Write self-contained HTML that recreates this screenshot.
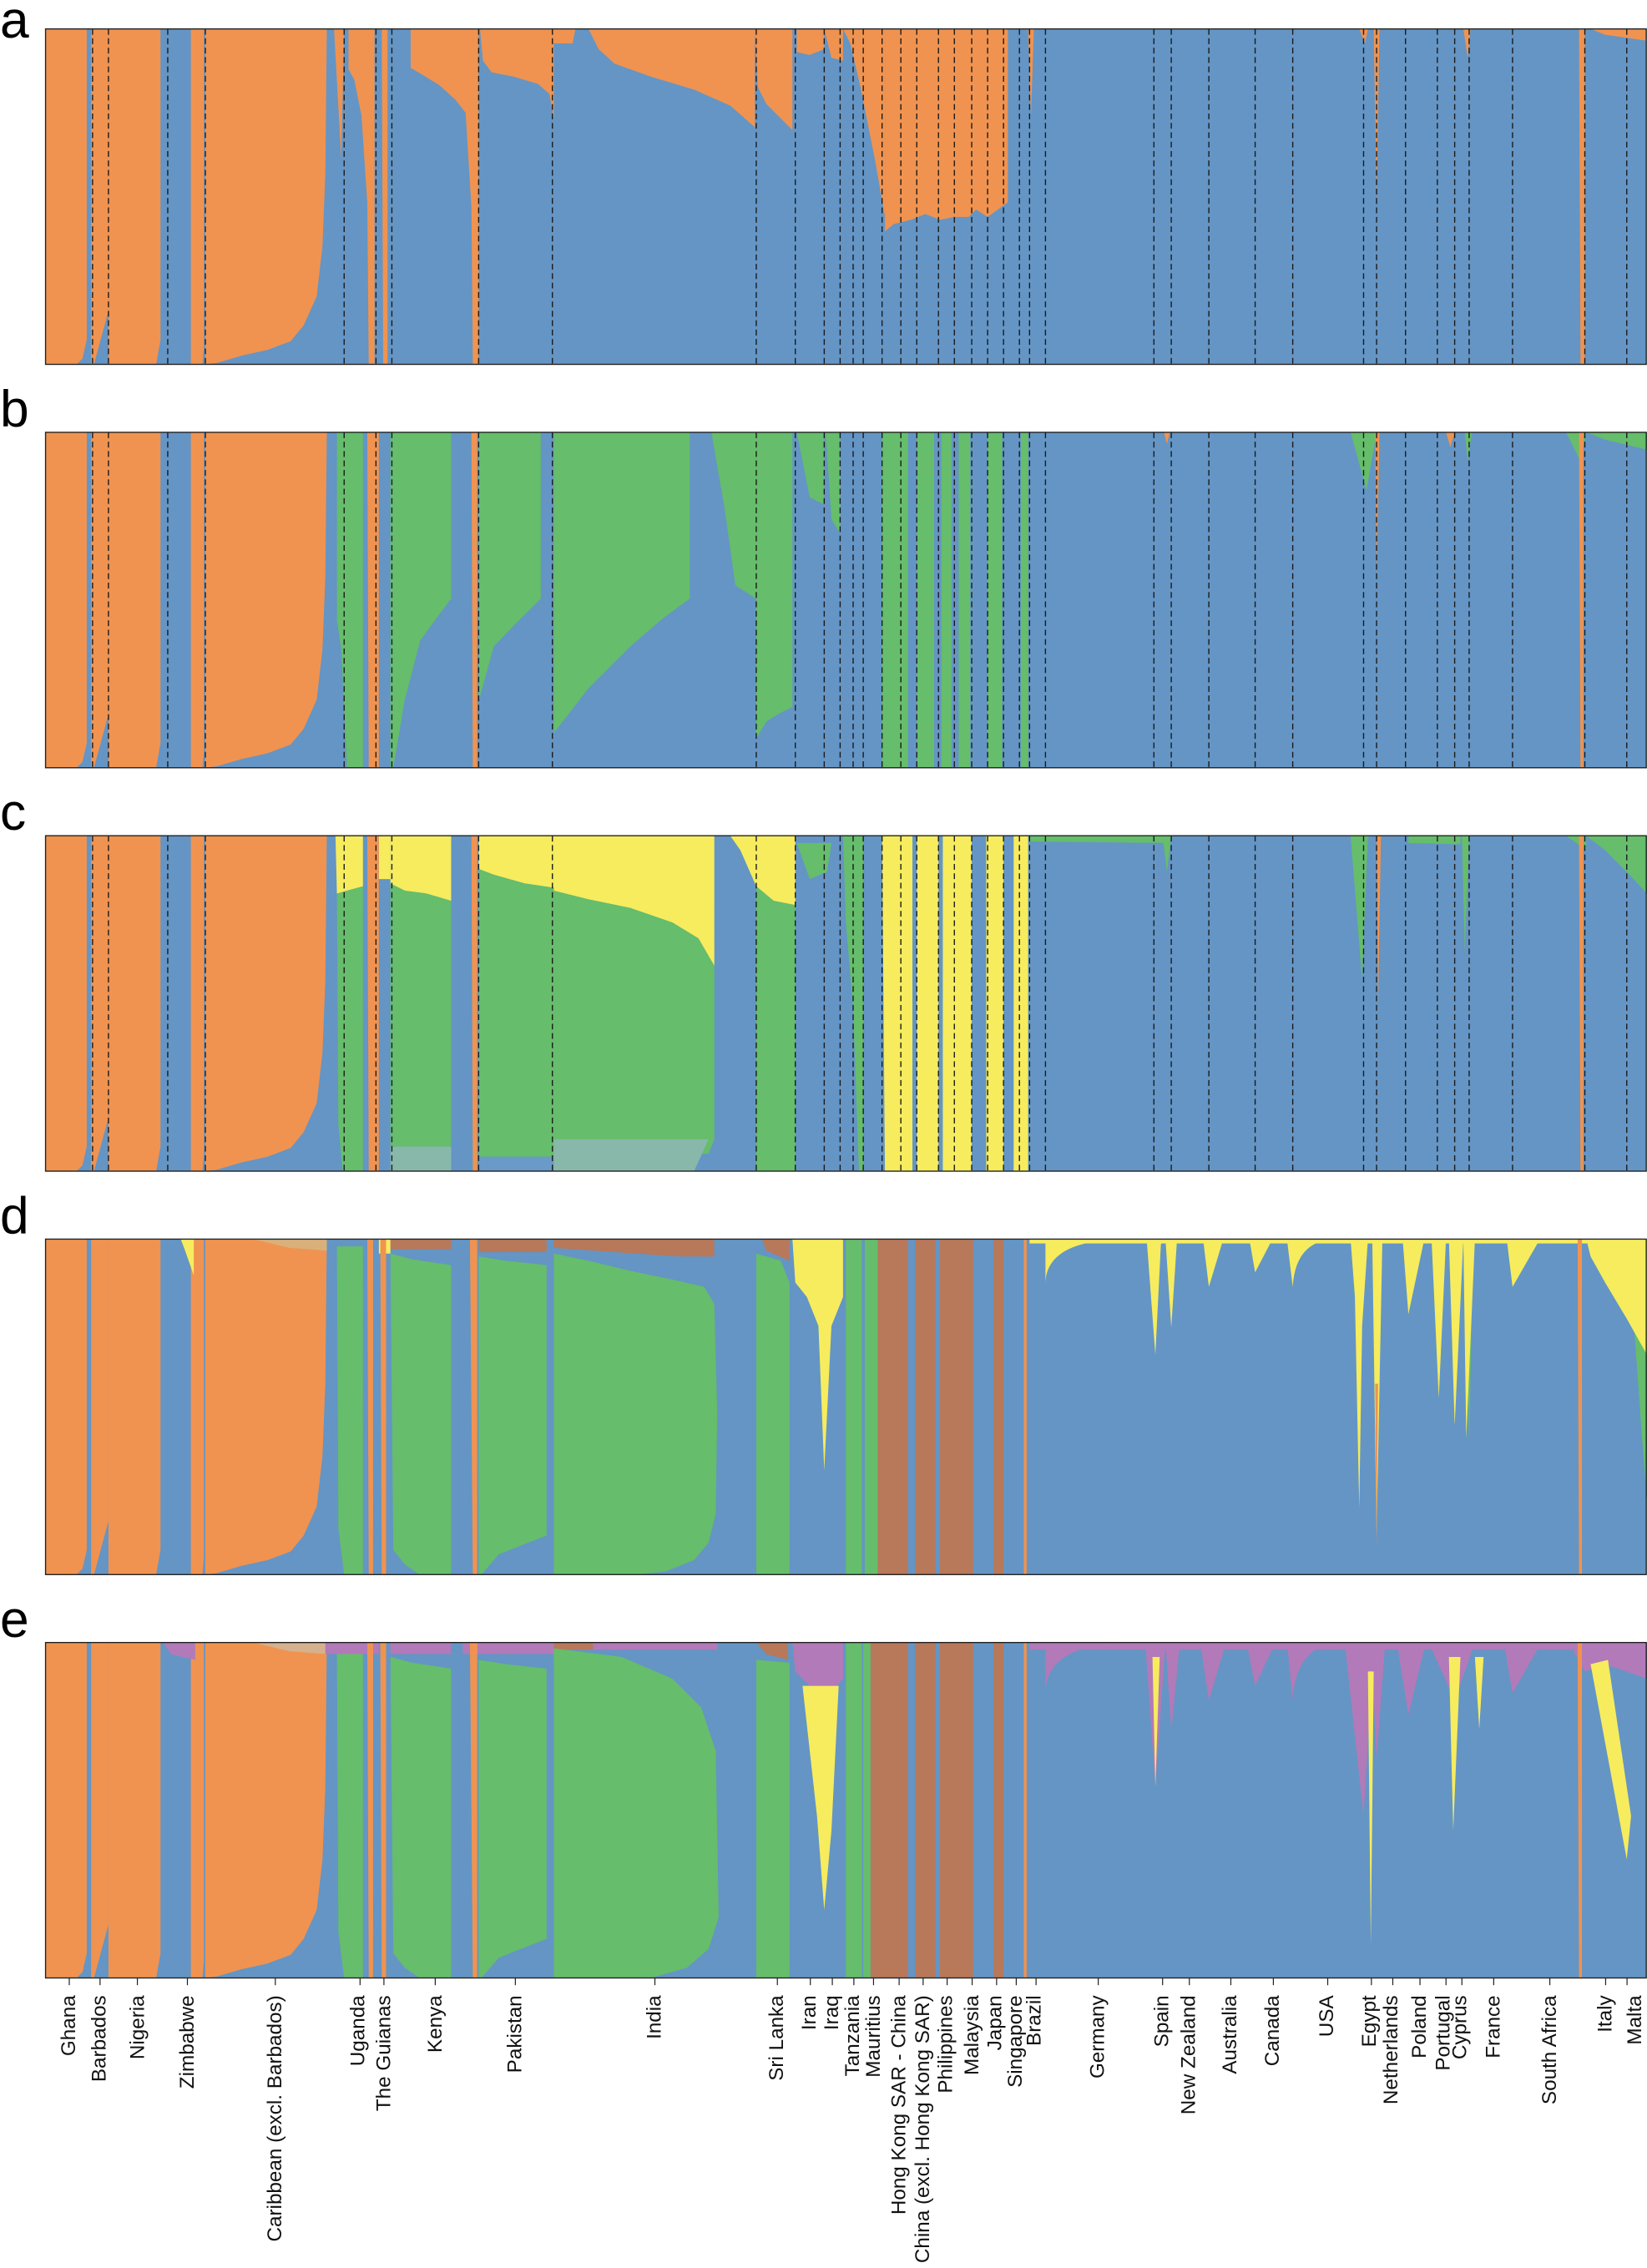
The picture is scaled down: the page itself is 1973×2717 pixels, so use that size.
<!DOCTYPE html>
<html><head><meta charset="utf-8"><style>html,body{margin:0;padding:0;background:#fff}svg{display:block}</style></head><body>
<svg xmlns="http://www.w3.org/2000/svg" width="1973" height="2717" viewBox="0 0 1139 1568.6" preserveAspectRatio="none" font-family="Liberation Sans, sans-serif">
<defs>
<g id="left">
<rect x="31.5" y="0" width="1107" height="232" fill="#6495c5"/>
<g fill="#f09350">
<path d="M31.5,0 H60 V215 L57,228 L53,232 H31.5 Z"/>
<path d="M63,0 H75 V195 L65,232 H63 Z"/>
<path d="M75,0 H111 V215 L108,232 H75 Z"/>
<path d="M132,0 H141 V220 L140,232 H132 Z"/>
<path d="M142,0 H226 L225,100 L223,150 L219,185 L210,205 L201,216 L185,222 L167,226 L150,231 L142,232 Z"/>
</g>
</g>
<g id="dash" stroke="#1a1a1a" stroke-width="0.8" stroke-dasharray="4,2.5">
<line x1="64" y1="0" x2="64" y2="232"/><line x1="75" y1="0" x2="75" y2="232"/><line x1="116" y1="0" x2="116" y2="232"/><line x1="142" y1="0" x2="142" y2="232"/><line x1="238" y1="0" x2="238" y2="232"/><line x1="260" y1="0" x2="260" y2="232"/><line x1="271" y1="0" x2="271" y2="232"/><line x1="331" y1="0" x2="331" y2="232"/><line x1="382" y1="0" x2="382" y2="232"/><line x1="523" y1="0" x2="523" y2="232"/><line x1="550" y1="0" x2="550" y2="232"/><line x1="570" y1="0" x2="570" y2="232"/><line x1="581" y1="0" x2="581" y2="232"/><line x1="590" y1="0" x2="590" y2="232"/><line x1="597" y1="0" x2="597" y2="232"/><line x1="610" y1="0" x2="610" y2="232"/><line x1="623" y1="0" x2="623" y2="232"/><line x1="634" y1="0" x2="634" y2="232"/><line x1="649" y1="0" x2="649" y2="232"/><line x1="660" y1="0" x2="660" y2="232"/><line x1="672" y1="0" x2="672" y2="232"/><line x1="683" y1="0" x2="683" y2="232"/><line x1="694" y1="0" x2="694" y2="232"/><line x1="705" y1="0" x2="705" y2="232"/><line x1="712" y1="0" x2="712" y2="232"/><line x1="723" y1="0" x2="723" y2="232"/><line x1="798" y1="0" x2="798" y2="232"/><line x1="810" y1="0" x2="810" y2="232"/><line x1="836" y1="0" x2="836" y2="232"/><line x1="868" y1="0" x2="868" y2="232"/><line x1="894" y1="0" x2="894" y2="232"/><line x1="943" y1="0" x2="943" y2="232"/><line x1="952" y1="0" x2="952" y2="232"/><line x1="972" y1="0" x2="972" y2="232"/><line x1="994" y1="0" x2="994" y2="232"/><line x1="1006" y1="0" x2="1006" y2="232"/><line x1="1016" y1="0" x2="1016" y2="232"/><line x1="1046" y1="0" x2="1046" y2="232"/><line x1="1096" y1="0" x2="1096" y2="232"/><line x1="1125" y1="0" x2="1125" y2="232"/>
</g>
</defs>

<g font-size="36" fill="#000">
<text x="0" y="26">a</text><text x="0" y="295">b</text><text x="0" y="574">c</text><text x="0" y="853">d</text><text x="0" y="1132">e</text>
</g>

<!-- Panel a -->
<g transform="translate(0,20)">
<use href="#left"/>
<g fill="#f09350">
<path d="M231,0 H238 L236,90 Z"/>
<path d="M241,0 H259 V232 H255 L254,120 L250,60 L245,35 L241,28 Z"/>
<path d="M264,0 H268 V232 H265 Z"/>
<path d="M284,0 H331 V232 H327 L326,123 L322,58 L315,49 L304,39 L291,31 L284,27 Z"/>
<path d="M332,0 H383 V62 L380,45 L372,38 L355,33 L340,30 L334,22 Z"/>
<path d="M383,0 H398 L396,10 L383,10 Z"/>
<path d="M407,0 H522 V68 L505,53 L480,42 L450,33 L425,24 L414,14 Z"/>
<path d="M522,0 H548 V70 L540,62 L530,52 L524,40 Z"/>
<path d="M551,0 H570 V14 L560,18 L551,16 Z"/>
<path d="M570,0 H583 V22 L575,20 Z"/>
<path d="M583,0 H612 V130 L605,90 L595,40 L588,10 Z"/>
<path d="M612,0 H697 V120 L690,125 L683,130 L675,125 L670,130 L660,130 L650,132 L640,128 L630,132 L618,135 L612,140 Z"/>
<path d="M711,0 H715 L713,60 Z"/>
<path d="M940,0 H946 L944,10 Z"/>
<path d="M950,0 H954 L952,120 Z"/>
<path d="M1012,0 H1017 L1015,20 Z"/>
<path d="M1092,0 H1096 V232 H1093 Z"/>
<path d="M1100,0 H1138 V8 L1110,4 Z"/>
</g>
<use href="#dash"/>
<rect x="31.5" y="0" width="1107" height="232" fill="none" stroke="#222" stroke-width="0.8"/>
</g>

<!-- Panel b -->
<g transform="translate(0,299)">
<use href="#left"/>
<g fill="#66bd6b">
<path d="M233,0 H251 V232 H240 L236,150 L233,130 Z"/>
<path d="M270,0 H312 V115 L301.5,129 L290.6,144 L279.7,186 L272,232 H270 Z"/>
<path d="M331,0 H374 V115 L356,133 L341.5,148 L331,186 Z"/>
<path d="M383,0 H477 V115 L458,129 L436,148 L407,177 L383,208 Z"/>
<path d="M492,0 H523 V115 L508.6,106 L501,52 Z"/>
<path d="M523,0 H548 V190 L538,195 L530,200 L524,210 L523,210 Z"/>
<path d="M551,0 H570 V50 L560,45 Z"/>
<path d="M571,0 H581 V70 L575,60 Z"/>
<path d="M610,0 H628 V232 H610 Z"/>
<path d="M634,0 H646 V232 H634 Z"/>
<path d="M651,0 H658 V232 H651 Z"/>
<path d="M663,0 H671 V232 H663 Z"/>
<path d="M683,0 H693 V232 H683 Z"/>
<path d="M706,0 H711 V232 H706 Z"/>
<path d="M934,0 H952 L945,40 Z"/>
<path d="M1013,0 H1018 L1015,20 Z"/>
<path d="M1083,0 H1097 L1093,20 Z"/>
<path d="M1097,0 H1139 V12 L1110,5 Z"/>
</g>
<g fill="#f09350">
<path d="M254,0 H262 V232 H255 Z"/>
<path d="M326,0 H330 V232 H327 Z"/>
<path d="M951,0 H954 L952,100 Z"/>
<path d="M1000,0 H1006 L1003,10 Z"/>
<path d="M1092,0 H1095 V232 H1093 Z"/>
<path d="M805,0 H809 L807,8 Z"/>
</g>
<use href="#dash"/>
<rect x="31.5" y="0" width="1107" height="232" fill="none" stroke="#222" stroke-width="0.8"/>
</g>

<!-- Panel c -->
<g transform="translate(0,578)">
<use href="#left"/>
<g fill="#f6ec5e">
<path d="M232,0 H251 V35 L240,38 L233,40 Z"/>
<path d="M262,0 H270 V30 L262,30 Z"/>
<path d="M270,0 H312 V45 L295,40 L280,38 L270,33 Z"/>
<path d="M331,0 H383 V36 L363,33 L341.5,27 L331,23 Z"/>
<path d="M383,0 H494 V90 L483,71 L465,60 L436,50 L407,44 L383,38 Z"/>
<path d="M505,0 H550 V48 L535,45 L523,35 L512,10 Z"/>
<path d="M610,0 H631 V232 H612 Z"/>
<path d="M634,0 H649 V232 H634 Z"/>
<path d="M652,0 H672 V232 H652 Z"/>
<path d="M682,0 H694 V232 H682 Z"/>
<path d="M701,0 H711 V232 H701 Z"/>
</g>
<g fill="#66bd6b">
<path d="M233,40 L240,38 L251,35 V232 H237 L234,200 Z"/>
<path d="M270,33 L280,38 L295,40 L312,45 V215 H270 Z"/>
<path d="M331,23 L341.5,27 L363,33 L383,36 V222 H331 Z"/>
<path d="M383,38 L407,44 L436,50 L465,60 L483,71 L494,90 V210 L490,220 H383 Z"/>
<path d="M523,35 L535,45 L550,48 V232 H523 Z"/>
<path d="M551,5 H575 L572,25 L560,30 Z"/>
<path d="M583,0 H597 V232 H594 L590,120 L585,60 Z"/>
<path d="M712,0 H806 V5 L712,4 Z"/>
<path d="M804,0 H810 L807,25 Z"/>
<path d="M934,0 H946 L942,100 Z"/>
<path d="M974,0 H1010 V6 L974,5 Z"/>
<path d="M1011,0 H1016 L1013,80 Z"/>
<path d="M1083,0 H1097 V10 Z"/>
<path d="M1097,0 H1139 V40 L1125,25 L1110,10 Z"/>
</g>
<g fill="#88b8aa">
<path d="M270,215 H312 V232 H270 Z"/>
<path d="M383,210 H490 L480,232 H383 Z"/>
</g>
<path d="M331,222 H383 V232 H331 Z" fill="#6a9ac8"/>
<g fill="#f09350">
<path d="M254,0 H262 V232 H255 Z"/>
<path d="M326,0 H330 V232 H327 Z"/>
<path d="M952,0 H955 L953,120 Z"/>
<path d="M1092,0 H1095 V232 H1093 Z"/>
</g>
<use href="#dash"/>
<rect x="31.5" y="0" width="1107" height="232" fill="none" stroke="#222" stroke-width="0.8"/>
</g>

<!-- Panel d -->
<g transform="translate(0,857)">
<use href="#left"/>
<path d="M175,0 H226 V8 L200,6 Z" fill="#d9b07a"/>
<g fill="#b8785a">
<path d="M270,0 H312 V7 H270 Z"/>
<path d="M331,0 H378 V9 H331 Z"/>
<path d="M383,0 H494 V12 L470,12 L440,10 L383,6 Z"/>
<path d="M527,0 H546 V15 L530,8 Z"/>
<path d="M607,0 H628 V232 H607 Z"/>
<path d="M633,0 H647 V232 H633 Z"/>
<path d="M650,0 H673 V232 H650 Z"/>
<path d="M687,0 H694 V232 H687 Z"/>
</g>
<g fill="#66bd6b">
<path d="M233,5 H251 V232 H238 L234,200 Z"/>
<path d="M270,10 L285,14 L312,18 V232 H290 L280,225 L272,215 Z"/>
<path d="M331,12 L350,15 L378,18 V205 L360,212 L345,218 L333,232 H331 Z"/>
<path d="M383,10 L407,15 L436,22 L465,28 L487,33 L494,45 L496,120 L495,190 L490,210 L480,222 L460,230 L440,232 H383 Z"/>
<path d="M523,10 L540,15 L546,30 V232 H523 Z"/>
<path d="M585,0 H596 V232 H585 Z"/>
<path d="M598,0 H607 V232 H598 Z"/>
<path d="M1130,60 L1139,75 V180 L1135,130 Z"/>
<path d="M1014,40 L1018,40 L1016,140 Z"/>
</g>
<g fill="#f6ec5e">
<path d="M262,0 H270 V10 H262 Z"/>
<path d="M125,0 H134 V25 L128,8 Z"/>
<path d="M548,0 H583 V40 L575,60 L570,160 L566,60 L558,40 L550,30 Z"/>
<path d="M712,0 H1139 V3 H712 Z"/>
<path d="M723,0 H781 Q723,0 723,31 Z"/>
<path d="M793,0 H803 L799,80 Z"/><path d="M801,0 H812 Q801,0 801,10 Z"/>
<path d="M806,0 H814 L810,61 Z"/>
<path d="M832,0 H846 L836,33 Z"/>
<path d="M864,0 H880 L868,23 Z"/>
<path d="M890,0 H925 Q896,0 894,33 Z"/>
<path d="M934,0 H946 L942,60 L940,186 L937,40 Z"/>
<path d="M949,0 H956 L952,205 Z"/>
<path d="M970,0 H985 L974,52 Z"/>
<path d="M990,0 H1000 L995,110 Z"/>
<path d="M1002,0 H1012 L1006,129 Z"/>
<path d="M1012,0 H1020 L1014,138 Z"/>
<path d="M1042,0 H1065 L1046,33 Z"/>
<path d="M1097,0 H1139 V80 L1125,55 L1110,30 L1100,12 Z"/>
</g>
<g fill="#f09350">
<path d="M254,0 H258 V232 H255 Z"/>
<path d="M263,0 H267 V232 H264 Z"/>
<path d="M325,0 H330 V232 H327 Z"/>
<path d="M708,0 H710 V232 H708 Z"/>
<path d="M951,100 L953,100 L952,215 Z"/>
<path d="M1091,0 H1094 V232 H1092 Z"/>
</g>
<rect x="31.5" y="0" width="1107" height="232" fill="none" stroke="#222" stroke-width="0.8"/>
</g>

<!-- Panel e -->
<g transform="translate(0,1136)">
<use href="#left"/>
<path d="M175,0 H226 V8 L200,6 Z" fill="#d6b18d"/>
<g fill="#b27ab8">
<path d="M113,0 H135 V12 L118,8 Z"/>
<path d="M225,0 H262 V8 H225 Z"/>
<path d="M270,0 H312 V8 H270 Z"/>
<path d="M320,0 H383 V8 H320 Z"/>
<path d="M410,0 H496 V5 H410 Z"/>
<path d="M548,0 H583 V25 L575,35 L560,30 L550,20 Z"/>
<path d="M712,0 H1139 V5 H712 Z"/>
<path d="M723,0 H785 Q723,0 723,35 Z"/>
<path d="M792,0 H806 L799,100 Z"/>
<path d="M806,0 H816 L810,61 Z"/>
<path d="M830,0 H848 L836,40 Z"/>
<path d="M862,0 H882 L868,30 Z"/>
<path d="M890,0 H930 Q896,0 894,40 Z"/>
<path d="M930,0 H950 L943,120 Z"/>
<path d="M948,0 H958 L952,80 Z"/>
<path d="M966,0 H986 L974,50 Z"/>
<path d="M988,0 H1020 L1006,40 Z"/>
<path d="M1040,0 H1066 L1046,35 Z"/>
<path d="M1085,0 H1139 V25 L1110,15 L1096,20 Z"/>
</g>
<g fill="#b8785a">
<path d="M383,0 H410 V5 H383 Z"/>
<path d="M523,0 H545 V12 L530,8 Z"/>
<path d="M602,0 H628 V232 H602 Z"/>
<path d="M633,0 H647 V232 H633 Z"/>
<path d="M650,0 H673 V232 H650 Z"/>
<path d="M687,0 H694 V232 H687 Z"/>
</g>
<g fill="#66bd6b">
<path d="M233,8 H251 V232 H238 L234,200 Z"/>
<path d="M270,10 L285,14 L312,18 V232 H290 L280,225 L272,215 Z"/>
<path d="M331,12 L350,15 L378,18 V205 L360,212 L345,218 L333,232 H331 Z"/>
<path d="M383,4 L430,10 L465,25 L485,45 L495,75 L497,190 L490,212 L475,225 L450,232 H383 Z"/>
<path d="M523,12 L546,14 V232 H523 Z"/>
<path d="M585,0 H596 V232 H585 Z"/>
<path d="M597,0 H602 V232 H597 Z"/>
</g>
<g fill="#f6ec5e">
<path d="M555,30 L580,30 L575,130 L570,185 L565,120 Z"/>
<path d="M797,10 H802 L799,100 Z"/>
<path d="M946,20 H950 L948,210 Z"/>
<path d="M1002,10 H1010 L1005,130 Z"/>
<path d="M1020,10 H1026 L1023,60 Z"/>
<path d="M1100,15 L1112,12 L1128,120 L1125,150 Z"/>
<path d="M326,0 H330 V8 H326 Z"/>
</g>
<g fill="#f09350">
<path d="M254,0 H258 V232 H255 Z"/>
<path d="M263,0 H267 V232 H264 Z"/>
<path d="M325,0 H330 V232 H327 Z"/>
<path d="M708,0 H710 V232 H708 Z"/>
<path d="M1091,0 H1094 V232 H1092 Z"/>
</g>
<rect x="31.5" y="0" width="1107" height="232" fill="none" stroke="#222" stroke-width="0.8"/>
</g>

<!-- ticks -->
<g stroke="#222" stroke-width="0.7">
<line x1="47.9" y1="1368" x2="47.9" y2="1373"/><line x1="69.2" y1="1368" x2="69.2" y2="1373"/><line x1="95" y1="1368" x2="95" y2="1373"/><line x1="129.6" y1="1368" x2="129.6" y2="1373"/><line x1="190.4" y1="1368" x2="190.4" y2="1373"/><line x1="249" y1="1368" x2="249" y2="1373"/><line x1="265.5" y1="1368" x2="265.5" y2="1373"/><line x1="301" y1="1368" x2="301" y2="1373"/><line x1="356.4" y1="1368" x2="356.4" y2="1373"/><line x1="452.9" y1="1368" x2="452.9" y2="1373"/><line x1="537.6" y1="1368" x2="537.6" y2="1373"/><line x1="560.4" y1="1368" x2="560.4" y2="1373"/><line x1="575.6" y1="1368" x2="575.6" y2="1373"/><line x1="590.5" y1="1368" x2="590.5" y2="1373"/><line x1="604.1" y1="1368" x2="604.1" y2="1373"/><line x1="621.8" y1="1368" x2="621.8" y2="1373"/><line x1="638.4" y1="1368" x2="638.4" y2="1373"/><line x1="655" y1="1368" x2="655" y2="1373"/><line x1="672.3" y1="1368" x2="672.3" y2="1373"/><line x1="689.2" y1="1368" x2="689.2" y2="1373"/><line x1="702.8" y1="1368" x2="702.8" y2="1373"/><line x1="716.5" y1="1368" x2="716.5" y2="1373"/><line x1="759.5" y1="1368" x2="759.5" y2="1373"/><line x1="804" y1="1368" x2="804" y2="1373"/><line x1="822.5" y1="1368" x2="822.5" y2="1373"/><line x1="851.2" y1="1368" x2="851.2" y2="1373"/><line x1="880.6" y1="1368" x2="880.6" y2="1373"/><line x1="918.2" y1="1368" x2="918.2" y2="1373"/><line x1="948.4" y1="1368" x2="948.4" y2="1373"/><line x1="963.2" y1="1368" x2="963.2" y2="1373"/><line x1="982" y1="1368" x2="982" y2="1373"/><line x1="1000" y1="1368" x2="1000" y2="1373"/><line x1="1011" y1="1368" x2="1011" y2="1373"/><line x1="1033" y1="1368" x2="1033" y2="1373"/><line x1="1071.8" y1="1368" x2="1071.8" y2="1373"/><line x1="1110.4" y1="1368" x2="1110.4" y2="1373"/><line x1="1125.2" y1="1368" x2="1125.2" y2="1373"/>
</g>

<!-- labels -->
<g font-size="14" fill="#111" text-anchor="end">
<text transform="translate(52,1380) rotate(-90)">Ghana</text>
<text transform="translate(73,1380) rotate(-90)">Barbados</text>
<text transform="translate(99.5,1380) rotate(-90)">Nigeria</text>
<text transform="translate(134,1380) rotate(-90)">Zimbabwe</text>
<text transform="translate(194.5,1380) rotate(-90)">Caribbean (excl. Barbados)</text>
<text transform="translate(252,1380) rotate(-90)">Uganda</text>
<text transform="translate(270,1380) rotate(-90)">The Guianas</text>
<text transform="translate(305.5,1380) rotate(-90)">Kenya</text>
<text transform="translate(360.5,1380) rotate(-90)">Pakistan</text>
<text transform="translate(457,1380) rotate(-90)">India</text>
<text transform="translate(541.5,1380) rotate(-90)">Sri Lanka</text>
<text transform="translate(564,1380) rotate(-90)">Iran</text>
<text transform="translate(579.5,1380) rotate(-90)">Iraq</text>
<text transform="translate(594,1380) rotate(-90)">Tanzania</text>
<text transform="translate(608.5,1380) rotate(-90)">Mauritius</text>
<text transform="translate(626,1380) rotate(-90)">Hong Kong SAR - China</text>
<text transform="translate(642.5,1380) rotate(-90)">China (excl. Hong Kong SAR)</text>
<text transform="translate(658.5,1380) rotate(-90)">Philippines</text>
<text transform="translate(676.5,1380) rotate(-90)">Malaysia</text>
<text transform="translate(692.5,1380) rotate(-90)">Japan</text>
<text transform="translate(706.5,1380) rotate(-90)">Singapore</text>
<text transform="translate(719.5,1380) rotate(-90)">Brazil</text>
<text transform="translate(763.5,1380) rotate(-90)">Germany</text>
<text transform="translate(808,1380) rotate(-90)">Spain</text>
<text transform="translate(826.5,1380) rotate(-90)">New Zealand</text>
<text transform="translate(855,1380) rotate(-90)">Australia</text>
<text transform="translate(884.5,1380) rotate(-90)">Canada</text>
<text transform="translate(922,1380) rotate(-90)">USA</text>
<text transform="translate(951.5,1380) rotate(-90)">Egypt</text>
<text transform="translate(966.5,1380) rotate(-90)">Netherlands</text>
<text transform="translate(986,1380) rotate(-90)">Poland</text>
<text transform="translate(1002.5,1380) rotate(-90)">Portugal</text>
<text transform="translate(1014,1380) rotate(-90)">Cyprus</text>
<text transform="translate(1037,1380) rotate(-90)">France</text>
<text transform="translate(1076,1380) rotate(-90)">South Africa</text>
<text transform="translate(1114.5,1380) rotate(-90)">Italy</text>
<text transform="translate(1135,1380) rotate(-90)">Malta</text>
</g>
</svg>
</body></html>
